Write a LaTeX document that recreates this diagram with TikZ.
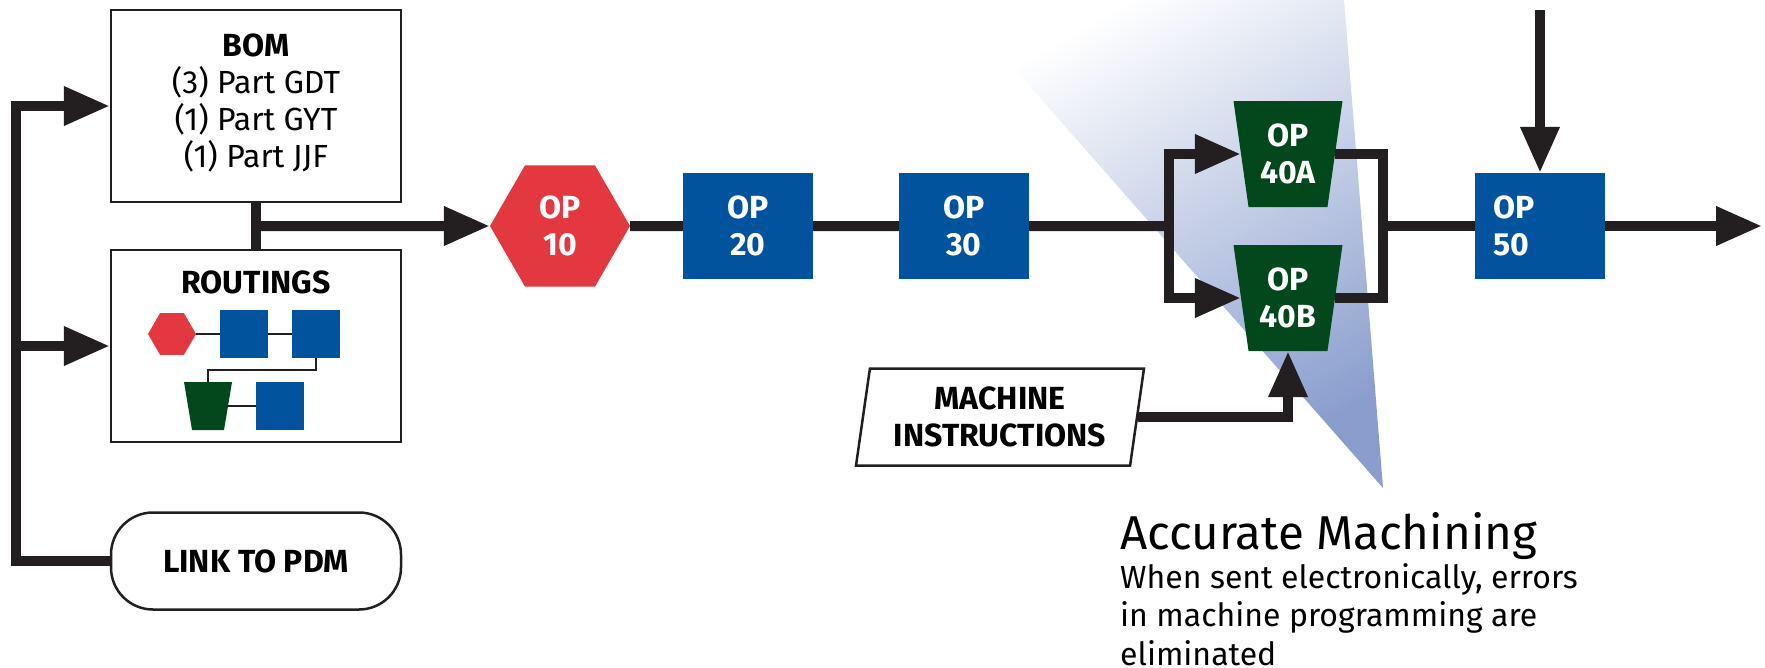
\documentclass[tikz,border=0pt]{standalone}
\usepackage{fontspec}
\setmainfont{Fira Sans}
\usepackage{tikz}
\usetikzlibrary{arrows.meta,shapes.geometric,positioning,calc}

\definecolor{opred}{RGB}{227,56,63}
\definecolor{opblue}{RGB}{2,83,158}
\definecolor{opgreen}{RGB}{3,71,29}
\definecolor{linecol}{RGB}{35,31,32}
\definecolor{beam}{RGB}{138,158,206}

\newcommand{\labelfont}{\fontsize{32}{37}\selectfont}
\newcommand{\notefont}{\fontsize{32}{38.5}\selectfont}

\tikzset{
  box/.style={draw=linecol, line width=2.5pt, fill=white, minimum width=290pt,
    inner sep=0pt, align=center, font=\labelfont},
  opbox/.style={fill=opblue, minimum width=130pt, minimum height=106pt, inner sep=0pt,
    text=white, font=\bfseries\labelfont, align=center},
  ophex/.style={regular polygon, regular polygon sides=6, minimum size=140pt, fill=opred,
    inner sep=0pt, text=white, font=\bfseries\labelfont, align=center},
  optrap/.style={trapezium, shape border rotate=180, trapezium angle=76,
    trapezium stretches body, minimum width=109pt, minimum height=106pt, fill=opgreen,
    inner sep=0pt, text=white, font=\bfseries\labelfont, align=center},
  infobox/.style={trapezium, trapezium left angle=77, trapezium right angle=103,
    trapezium stretches body, minimum width=288pt, minimum height=97pt, draw=linecol,
    line width=2.5pt, fill=white, inner sep=0pt, font=\bfseries\labelfont, align=center},
  minisq/.style={fill=opblue, minimum size=48pt, inner sep=0pt},
  minihex/.style={regular polygon, regular polygon sides=6, minimum size=48pt, fill=opred, inner sep=0pt},
  minitrap/.style={minimum size=48pt, inner sep=0pt,
    path picture={\fill[opgreen] (path picture bounding box.north west)
      -- (path picture bounding box.north east)
      -- ([xshift=-8pt]path picture bounding box.south east)
      -- ([xshift=8pt]path picture bounding box.south west) -- cycle;}},
  minilink/.style={draw=linecol, line width=2pt},
  flow/.style={draw=linecol, line width=10pt},
  flowarrow/.style={flow, -{Triangle[length=46pt,width=37pt]}},
}

\begin{document}
\begin{tikzpicture}
    [x=1pt, y=-1pt, line join=miter]

    \useasboundingbox (0,0) rectangle (1765,667);

    % light beam behind the parallel ops
    \shade[top color=white, bottom color=beam, shading angle=30]
      (954,0) -- (1344,0) -- (1383,488) -- cycle;

    \coordinate (busx)  at (16,0);
    \coordinate (split) at (1169,226);
    \coordinate (merge) at (1383,226);
    \coordinate (feed)  at (1540,10);
    \coordinate (out)   at (1762,226);

    % left column
    \node[box, minimum height=192pt] (bom) at (256,106)
      {\textbf{BOM}\\(3) Part GDT\\(1) Part GYT\\(1) Part JJF\\[-27pt]};
    \node[box, minimum height=192pt] (rout) at (256,346) {};
    \node[font=\bfseries\labelfont, inner sep=0pt, below=22pt of rout.north] (routtitle) {ROUTINGS};
    \node[box, minimum height=97pt, rounded corners=42pt, font=\bfseries\labelfont] (link) at (256,561)
      {LINK TO PDM};

    % small routing sketch
    \node[minihex]  (mhex)  at (172,334) {};
    \node[minisq]   (msq1)  at (244,334) {};
    \node[minisq]   (msq2)  at (316,334) {};
    \node[minitrap] (mtrap) at (208,406) {};
    \node[minisq]   (msq3)  at (280,406) {};
    \draw[minilink] (mhex) -- (msq1) -- (msq2);
    \draw[minilink] (msq2.south) -- ++(0,12) -| (mtrap.north);
    \draw[minilink, shorten <=-4pt] (mtrap) -- (msq3);

    % operations
    \node[ophex]  (op10)  at (560,226)  {OP\\10};
    \node[opbox]  (op20)  at (748,226)  {OP\\20};
    \node[opbox]  (op30)  at (964,226)  {OP\\30};
    \node[optrap] (op40a) at (1288,154) {OP\\40A};
    \node[optrap] (op40b) at (1288,298) {OP\\40B};
    \node[opbox, align=left, text width=94pt, inner xsep=18pt] (op50) at (1540,226) {OP\\50};
    \node[infobox] (mach) at (1000,417) {MACHINE\\INSTRUCTIONS};

    % connectors
    \draw[flowarrow] (link.west) -| (bom.west -| busx) -- (bom.west);
    \draw[flowarrow] (rout.west -| busx) -- (rout.west);
    \draw[flow] (bom.south) -- (rout.north);
    \draw[flowarrow] (bom.south |- op10) -- (op10);
    \draw[flow] (op10) -- (op20) -- (op30) -- (split);
    \draw[flowarrow] (split) |- (op40a);
    \draw[flowarrow] (split) |- (op40b);
    \draw[flow] (op40a) -| (merge) |- (op40b);
    \draw[flow] (merge) -- (op50);
    \draw[flowarrow] (feed) -- (op50);
    \draw[flowarrow] (op50) -- (out);
    \draw[flowarrow] (mach) -| (op40b);

    % note
    \node[anchor=base west, inner sep=0pt, font=\fontsize{47.5}{54}\selectfont] (acctitle) at (1120,549)
      {Accurate Machining};
    \node[anchor=north west, inner sep=0pt, align=left, font=\notefont] (accnote)
      at (1120,563) {When sent electronically, errors\\in machine programming are\\eliminated};
  \end{tikzpicture}
\end{document}
